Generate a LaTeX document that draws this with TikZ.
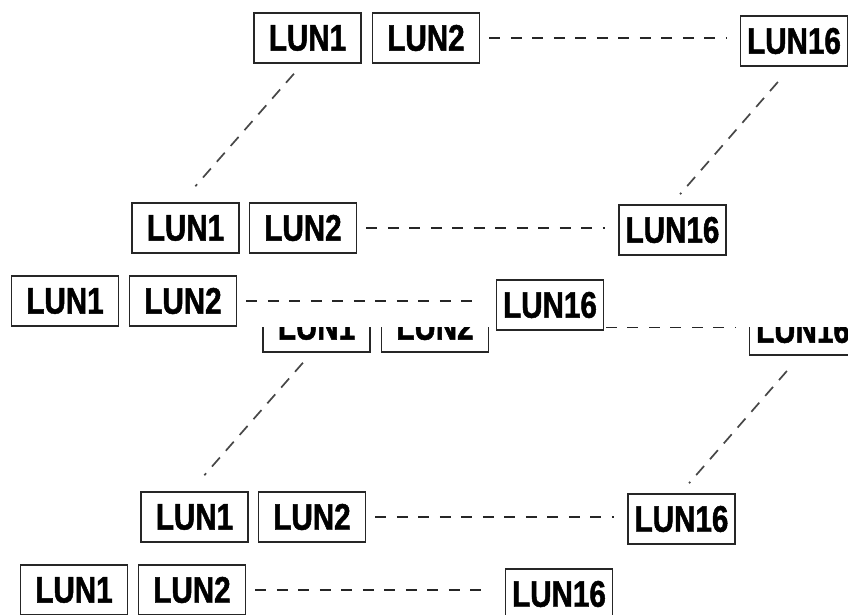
\documentclass[tikz,border=0pt]{standalone}
\usepackage{fontspec}
\newfontfamily\lunfont[FakeStretch=0.8, BoldFeatures={FakeBold=1.3}]{Liberation Sans}
\tikzset{
  lun/.style={draw=black!85, line width=1.9pt, fill=white, minimum width=107pt,
    minimum height=50pt, inner sep=0pt,
    font=\lunfont\bfseries\fontsize{37}{37}\selectfont},
  hdash/.style={draw=black!85, line width=2.7pt, dash pattern=on 11pt off 10.5pt},
  ddash/.style={draw=black!72, line width=1.7pt, dash pattern=on 12pt off 9pt}
}
\newcommand\lungroup[1]{%
  \node[lun] (#1a1) at (307.5,38) {LUN1};
  \node[lun] (#1b1) at (426,38) {LUN2};
  \node[lun] (#1c1) at (794,41) {LUN16};
  \node[lun] (#1a2) at (185.5,228) {LUN1};
  \node[lun] (#1b2) at (303,228) {LUN2};
  \node[lun] (#1c2) at (672.5,230) {LUN16};
  \node[lun] (#1a3) at (65,301) {LUN1};
  \node[lun] (#1b3) at (183,301) {LUN2};
  \node[lun] (#1c3) at (550,305) {LUN16};
  \foreach \r in {1,2,3}{
    \draw[hdash, shorten <=9pt, shorten >=13pt] (#1b\r.east) -- (#1b\r.east -| #1c\r.west);
  }
  \draw[ddash, shorten <=13pt, shorten >=21pt] ([xshift=-5pt]#1a1.south) -- ([xshift=-4pt]#1a2.north);
  \draw[ddash, shorten <=20pt, shorten >=13pt] ([xshift=-3pt]#1c1.south) -- ([xshift=-1pt]#1c2.north);
}
\begin{document}
\begin{tikzpicture}[x=1pt,y=-1pt]
  \useasboundingbox (0,0) rectangle (848,615);
  \fill[white] (0,0) rectangle (848,615);
  \begin{scope}[shift={(9,289)}]
    \lungroup{b}
  \end{scope}
  \fill[white] (0,0) rectangle (848,326.5);
  \lungroup{t}
\end{tikzpicture}
\end{document}
